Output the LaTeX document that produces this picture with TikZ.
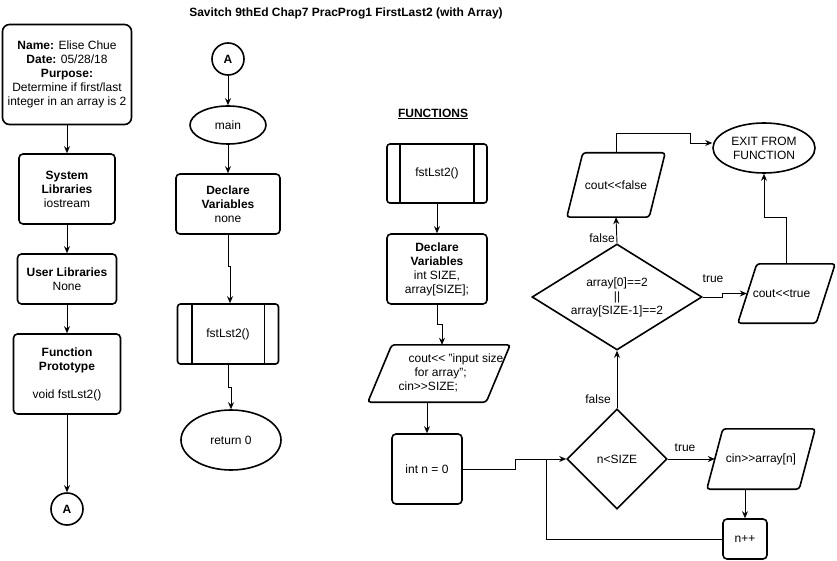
\documentclass[tikz,border=0pt]{standalone}
\usepackage{fontspec}
\setmainfont{Liberation Sans}
\usetikzlibrary{arrows.meta,shapes.geometric}
\def\ioshape(#1)(#2){\draw[line width=1.6pt,rounded corners=3pt] ([xshift=#2]#1.north west) -- (#1.north east) -- ([xshift=-#2]#1.south east) -- (#1.south west) -- cycle;}

\begin{document}
\begin{tikzpicture}[x=1pt,y=-1pt,
	every node/.style={font=\fontsize{12}{14}\selectfont},
	blk/.style={draw,line width=1.6pt,rounded corners=4pt,align=center,inner sep=0pt},
	term/.style={draw,line width=1.6pt,ellipse,align=center,inner sep=0pt},
	conn/.style={draw,line width=1.6pt,circle,inner sep=0pt,minimum size=32pt,font=\fontsize{12}{14}\selectfont\bfseries},
	io/.style={rectangle,inner sep=0pt,align=center},
	dec/.style={draw,line width=1.6pt,diamond,align=center,inner sep=0pt},
	arr/.style={-{Stealth[length=7pt,width=6pt]},line width=0.9pt},
	lnk/.style={line width=0.9pt}]
		%%%%% START %%%%%
		\fill[white] (0,0) rectangle (837,561);
		\node (title) at (346,13) {\bfseries Savitch 9thEd Chap7 PracProg1 FirstLast2 (with Array)};
		
		% left column
		\node[blk,rounded corners=7pt,minimum width=129,minimum height=100] (hdr) at (67,74.5)
			{\textbf{Name:} Elise Chue\\ \textbf{Date:} 05/28/18\\ \textbf{Purpose:}\\ Determine if first/last\\ integer in an array is 2};
		\node[blk,minimum width=96,minimum height=70] (syslib) at (67,189) {\textbf{System}\\ \textbf{Libraries}\\ iostream};
		\node[blk,minimum width=99,minimum height=50] (usrlib) at (67,279) {\textbf{User Libraries}\\ None};
		\node[blk,minimum width=107,minimum height=80] (proto) at (67,374) {\textbf{Function}\\ \textbf{Prototype}\\[14pt] void fstLst2()};
		\node[conn] (offA) at (67,509) {A};
		
		\draw[arr] (hdr.south) -- (syslib.north);
		\draw[arr] (syslib.south) -- (usrlib.north);
		\draw[arr] (usrlib.south) -- (proto.north);
		\draw[arr] (proto.south) -- (offA.north);
		
		% main
		\node[conn] (onA) at (228,59) {A};
		\node[term,minimum width=76,minimum height=38] (main) at (228,125) {main};
		\node[blk,minimum width=104,minimum height=60] (decl1) at (228,204) {\textbf{Declare}\\ \textbf{Variables}\\ none};
		\node[blk,rounded corners=3pt,minimum width=101,minimum height=60] (call1) at (228,334) {fstLst2()};
		\draw[line width=1.6pt] ([xshift=15pt]call1.north west) -- ([xshift=15pt]call1.south west);
		\draw[line width=1.6pt] ([xshift=-15pt]call1.north east) -- ([xshift=-15pt]call1.south east);
		\node[term,minimum width=100,minimum height=60] (ret) at (231,440) {return 0};
		
		\draw[arr] (onA.south) -- (main.north);
		\draw[arr] (main.south) -- (decl1.north);
		\draw[arr] (decl1.south) -- ++(0,32) -| ([xshift=2pt]call1.north);
		\draw[arr] (call1.south) -- ++(0,23) -| (ret.north);
		
		% function fstLst2
		\node (fnhead) at (433,114) {\underline{\textbf{FUNCTIONS}}};
		\node[blk,rounded corners=3pt,minimum width=100,minimum height=59] (call2) at (437,173.5) {fstLst2()};
		\draw[line width=1.6pt] ([xshift=14pt]call2.north west) -- ([xshift=14pt]call2.south west);
		\draw[line width=1.6pt] ([xshift=-14pt]call2.north east) -- ([xshift=-14pt]call2.south east);
		\node[blk,minimum width=100,minimum height=70] (decl2) at (437,269) {\textbf{Declare}\\ \textbf{Variables}\\ int SIZE,\\ array[SIZE];};
		\node[io,minimum width=142,minimum height=57] (inp) at (439,373.5) {};
		\ioshape(inp)(24pt)
		\node[align=left] (inpT) at (451,373) {\hspace*{10pt}cout<{}< "input size\\ \hspace*{16pt}for array";\\ cin>{}>SIZE;};
		\node[blk,minimum width=70,minimum height=70] (intn) at (427,469) {int n = 0};
		\node[dec,minimum width=100,minimum height=100] (ns) at (617,459) {n<SIZE};
		\node[io,minimum width=108,minimum height=60] (cinp) at (761,459) {cin>{}>array[n]};
		\ioshape(cinp)(16pt)
		\node[blk,minimum width=44,minimum height=40] (npp) at (745,539) {n++};
		\coordinate (jn) at (546,459);
		\node[dec,shape aspect=1.6,minimum width=170,minimum height=106] (big) at (617,297) {array[0]==2\\ ||\\ array[SIZE-1]==2};
		\node[io,minimum width=98,minimum height=64] (cf) at (616,185) {cout<{}<false};
		\ioshape(cf)(16pt)
		\node[io,minimum width=97,minimum height=59] (ct) at (786.5,293.5) {\hspace*{-10pt}cout<{}<true};
		\ioshape(ct)(19pt)
		\node[term,minimum width=102,minimum height=50] (exitf) at (764,148) {EXIT FROM\\ FUNCTION};
		
		\draw[arr] (call2.south) -- (decl2.north);
		\draw[arr] (decl2.south) -- ++(0,20) -| ([xshift=3pt]inp.north);
		\draw[arr] (inp.south -| intn.north) -- (intn.north);
		\draw[arr] (intn.east) -- ++(53,0) |- (ns.west);
		\draw[arr] (ns.east) -- ([xshift=8pt]cinp.west);
		\draw[arr] (cinp.south -| npp.north) -- (npp.north);
		\draw[lnk] (npp.west) -| (jn);
		\draw[arr] (ns.north) -- (big.south);
		\draw[arr] (big.north) -- (cf.south);
		\draw[arr] (big.east) -- ++(20,0) |- ([xshift=9pt]ct.west);
		\draw[arr] (cf.north) -- ++(0,-19) -- ++(74,0) |- ([yshift=5pt]exitf.west);
		\draw[arr] (ct.north) -- ++(0,-46) -| (exitf.south);
		
		\node (tru1) at (685,448) {true};
		\node (fls1) at (598,399) {false};
		\node (fls2) at (602,238) {false};
		\node (tru2) at (713,279) {true};
		%%%%% END %%%%%
\end{tikzpicture}
\end{document}
